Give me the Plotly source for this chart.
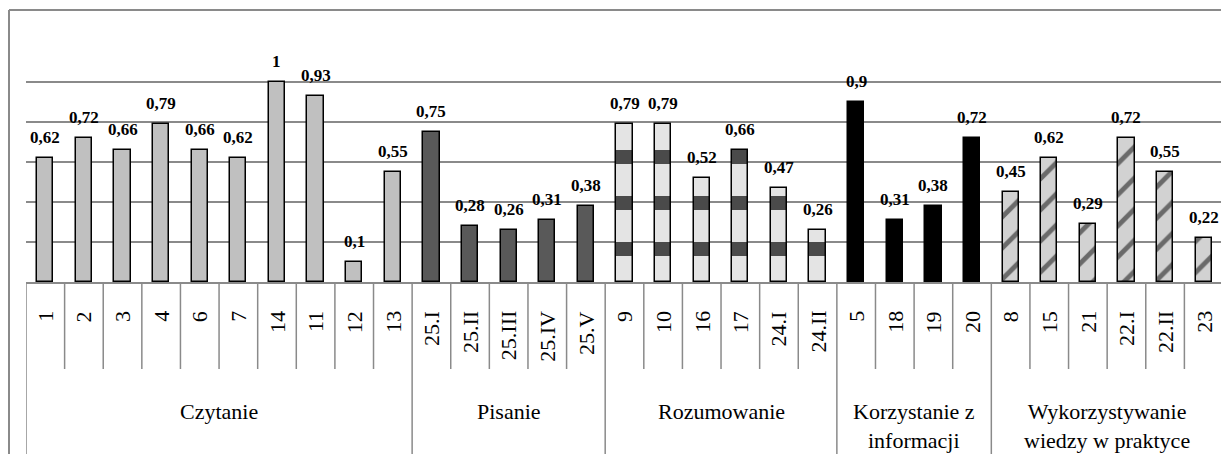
import plotly.graph_objects as go

# ---- data ----
groups = ["Czytanie", "Pisanie", "Rozumowanie", "Korzystanie z<br>informacji",
          "Wykorzystywanie<br>wiedzy w praktyce"]
czytanie_items = ["1", "2", "3", "4", "6", "7", "14", "11", "12", "13"]
czytanie_vals = [0.62, 0.72, 0.66, 0.79, 0.66, 0.62, 1, 0.93, 0.1, 0.55]
pisanie_items = ["25.I", "25.II", "25.III", "25.IV", "25.V"]
pisanie_vals = [0.75, 0.28, 0.26, 0.31, 0.38]
rozum_items = ["9", "10", "16", "17", "24.I", "24.II"]
rozum_vals = [0.79, 0.79, 0.52, 0.66, 0.47, 0.26]
korzyst_items = ["5", "18", "19", "20"]
korzyst_vals = [0.9, 0.31, 0.38, 0.72]
wykorz_items = ["8", "15", "21", "22.I", "22.II", "23"]
wykorz_vals = [0.45, 0.62, 0.29, 0.72, 0.55, 0.22]
y_grid = [0.2, 0.4, 0.6, 0.8, 1.0, 1.2]

series = [
    (czytanie_items, czytanie_vals),
    (pisanie_items, pisanie_vals),
    (rozum_items, rozum_vals),
    (korzyst_items, korzyst_vals),
    (wykorz_items, wykorz_vals),
]
all_items = [c for items, _ in series for c in items]
pos = {c: i for i, c in enumerate(all_items)}

# ---- style (page body has an 8px margin, so figure coords = page - 8) ----
OFF = 8
W, H = 1229 - OFF, 454 - OFF
ML, MR, MT, MB = 26 - OFF, 6, 42 - OFF, 172
PH = H - MT - MB
BASE = H - MB  # baseline in figure px
GRID = "#8a8a8a"
FONT = "Liberation Serif, Times New Roman, serif"


def py(page_y):
    """page pixel y -> paper y"""
    return (BASE - (page_y - OFF)) / PH


markers = [
    dict(color="#c0c0c0", line=dict(color="black", width=1.5)),
    dict(color="#595959", line=dict(color="black", width=1.5)),
    dict(color="#dcdcdc", line=dict(color="black", width=1.5),
         pattern=dict(shape="-", fgcolor="#4a4a4a", bgcolor="#e4e4e4",
                      size=46, solidity=0.3, fillmode="overlay", fgopacity=1)),
    dict(color="#000000", line=dict(color="black", width=1.5)),
    dict(color="#d0d0d0", line=dict(color="black", width=1.5),
         pattern=dict(shape="/", fgcolor="#5e5e5e", bgcolor="#d2d2d2",
                      size=22, solidity=0.22, fillmode="overlay", fgopacity=0.9)),
]

fig = go.Figure()
for (items, vals), mk in zip(series, markers):
    fig.add_trace(go.Bar(x=items, y=vals, width=0.42, marker=mk,
                         showlegend=False, hoverinfo="x+y"))


def fmt(v):
    return f"{v:g}".replace(".", ",")


annotations = []
for items, vals in series:
    for c, v in zip(items, vals):
        annotations.append(dict(x=pos[c], y=v, xref="x", yref="y", text=f"<b>{fmt(v)}</b>",
                                showarrow=False, yanchor="bottom", yshift=9,
                                font=dict(family=FONT, size=17, color="black")))
        # rotated category label, top-aligned under the axis
        annotations.append(dict(x=pos[c], y=py(309), xref="x", yref="paper", text=c,
                                showarrow=False, textangle=-90, yanchor="top",
                                xanchor="center",
                                font=dict(family=FONT, size=22, color="black")))

shapes = []
boundaries = []
idx = 0
for items, _ in series:
    idx += len(items)
    boundaries.append(idx - 0.5)
group_bounds = [-0.5] + boundaries
for i in range(len(all_items) + 1):
    xb = i - 0.5
    long = xb in group_bounds
    y1 = py(470) if long else py(369)
    shapes.append(dict(type="line", xref="x", yref="paper", x0=xb, x1=xb,
                       y0=0, y1=y1, line=dict(color=GRID, width=1.5)))

# group labels
start = -0.5
for g, (items, _) in zip(groups, series):
    center = start + len(items) / 2
    start += len(items)
    annotations.append(dict(x=center, y=py(397), xref="x", yref="paper",
                            text=g, showarrow=False, yanchor="top",
                            font=dict(family=FONT, size=22, color="black")))

# outer frame (left and top edges)
fx = (1 - ML) / (W - ML - MR)
fy = py(10)
shapes.append(dict(type="line", xref="paper", yref="paper", x0=fx, x1=fx,
                   y0=fy, y1=py(470), line=dict(color=GRID, width=2)))
shapes.append(dict(type="line", xref="paper", yref="paper", x0=fx, x1=1.05,
                   y0=fy, y1=fy, line=dict(color=GRID, width=2)))

fig.update_layout(
    width=W, height=H,
    margin=dict(l=ML, r=MR, t=MT, b=MB),
    paper_bgcolor="white", plot_bgcolor="white",
    barmode="overlay",
    bargap=0,
    annotations=annotations,
    shapes=shapes,
    font=dict(family=FONT, color="black"),
    xaxis=dict(type="category", categoryorder="array", categoryarray=all_items,
               range=[-0.5, len(all_items) - 0.5],
               ticks="", showticklabels=False, showgrid=False,
               showline=True, linecolor=GRID, linewidth=2, fixedrange=True),
    yaxis=dict(range=[0, 1.2], tickvals=y_grid, showticklabels=False,
               showgrid=True, gridcolor=GRID, gridwidth=2,
               zeroline=False, showline=False, fixedrange=True),
)

fig.write_html("out.html")
